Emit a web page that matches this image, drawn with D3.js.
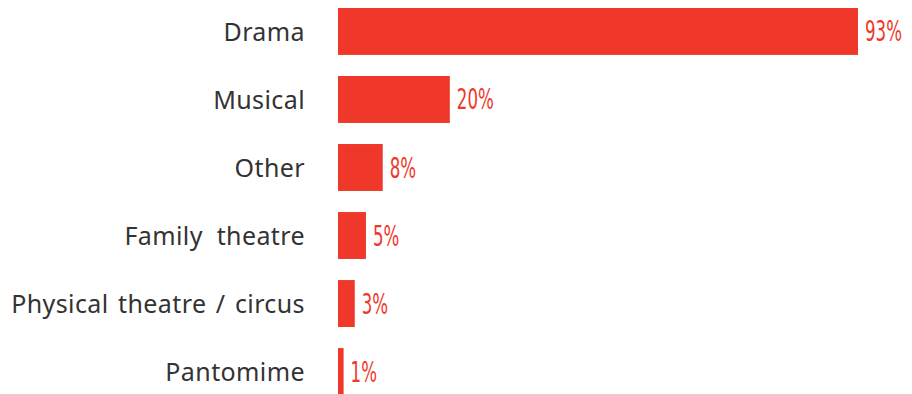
<!DOCTYPE html>
<html>
<head>
<meta charset="utf-8">
<script src="https://cdn.jsdelivr.net/npm/d3@7"></script>
<style>
  html, body { margin: 0; padding: 0; background: #fff; }
  svg { display: block; }
</style>
</head>
<body>
<svg id="chart" width="912" height="394"></svg>
<script>
// Share of productions by genre
const categories = ["Drama", "Musical", "Other", "Family  theatre", "Physical theatre / circus", "Pantomime"];
const values = [93, 20, 8, 5, 3, 1];
const valueLabels = ["93%", "20%", "8%", "5%", "3%", "1%"];

const svg = d3.select("#chart");
const red = "#ef3829";

const x = d3.scaleLinear().domain([0, 93]).range([338, 858]);
const y = d3.scaleBand().domain(categories).range([8, 395]).paddingInner(0.31).paddingOuter(0).align(0);

svg.selectAll("rect.bar")
  .data(categories)
  .join("rect")
  .attr("class", "bar")
  .attr("x", x(0))
  .attr("y", d => y(d))
  .attr("width", (d, i) => x(values[i]) - x(0))
  .attr("height", y.bandwidth())
  .attr("fill", red);

// Category names, right aligned against the bars
svg.selectAll("text.cat")
  .data(categories)
  .join("text")
  .attr("class", "cat")
  .attr("x", 305)
  .attr("y", d => y(d) + y.bandwidth() / 2)
  .attr("dy", 9.5)
  .attr("text-anchor", "end")
  .attr("font-family", "'Noto Sans', 'Open Sans', sans-serif")
  .attr("font-size", 25)
  .attr("letter-spacing", 0.4)
  .attr("word-spacing", d => d.includes("  ") ? 0 : 2.5)
  .attr("fill", "#333")
  .style("white-space", "pre")
  .text(d => d);

// Value labels in a condensed face
svg.selectAll("text.val")
  .data(categories)
  .join("text")
  .attr("class", "val")
  .attr("transform", (d, i) => `translate(${x(values[i]) + 7},${y(d) + y.bandwidth() / 2}) scale(0.66,1)`)
  .attr("dy", 10)
  .attr("font-family", "'Liberation Sans Narrow', 'DejaVu Sans Condensed', sans-serif")
  .attr("font-size", 28)
  .attr("fill", red)
  .text((d, i) => valueLabels[i]);
</script>
</body>
</html>
